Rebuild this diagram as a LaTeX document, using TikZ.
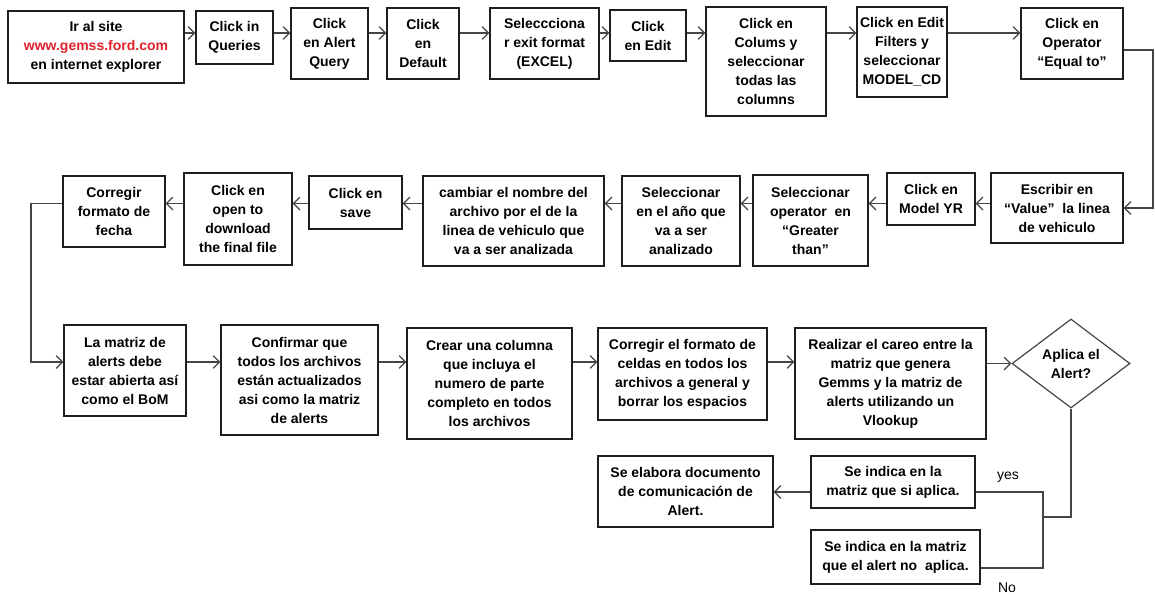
\documentclass[tikz,border=0pt]{standalone}
\usepackage{fontspec}
\setmainfont{Liberation Sans}
\usetikzlibrary{arrows.meta,shapes.geometric}
\definecolor{boxline}{HTML}{1E1E1E}
\definecolor{linegray}{HTML}{454545}
\definecolor{urlred}{HTML}{E0202A}
\newcommand\boxfont{\bfseries\fontsize{14}{19}\selectfont}
% box given by its left, top, right and bottom edges
\newcommand\flowbox[6]{%
  \node[stepbox, minimum width={(#4)-(#2)}, minimum height={(#5)-(#3)}]
    (#1) at ({((#2)+(#4))/2},{((#3)+(#5))/2}) {#6};}
\tikzset{
  stepbox/.style={draw=boxline, line width=1.2pt, align=center, inner sep=1pt,
    font=\boxfont, text=black},
  decision/.style={diamond, draw=linegray, line width=1.2pt, align=center,
    inner sep=0pt, font=\boxfont},
  flow/.style={draw=linegray, line width=1.3pt,
    -{Straight Barb[angle=90:9pt]}},
  link/.style={draw=linegray, line width=1.3pt},
  lbl/.style={font=\fontsize{14}{17}\selectfont, inner sep=0pt},
}
\begin{document}
\begin{tikzpicture}[x=1pt,y=-1pt]
\useasboundingbox (0,0) rectangle (1155,594);

% levels of the connectors
\coordinate (yA) at (0,33);
\coordinate (yA2) at (0,50);
\coordinate (yB) at (0,203.5);
\coordinate (yC) at (0,362);
\coordinate (yD) at (0,492);
\coordinate (yE) at (0,568);
\coordinate (rc) at (1153,208);
\coordinate (lc) at (31,362);
\coordinate (jn) at (1043,517);

% first row
\flowbox{b1}{8}{11}{184}{83}{Ir al site\\{\color{urlred}www.gemss.ford.com}\\en internet explorer}
\flowbox{b2}{196}{11}{273}{64}{Click in\\Queries}
\flowbox{b3}{291}{8}{368}{79}{Click\\en Alert\\Query}
\flowbox{b4}{387}{8}{459}{79}{Click\\en\\Default}
\flowbox{b5}{490}{8}{599}{79}{Seleccciona\\r exit format\\(EXCEL)}
\flowbox{b6}{610}{10}{686}{61}{Click\\en Edit}
\flowbox{b7}{706}{7}{826}{116}{Click en\\Colums y\\seleccionar\\todas las\\columns}
\flowbox{b8}{857}{7}{947}{97}{Click en Edit\\Filters y\\seleccionar\\MODEL\_CD}
\flowbox{b9}{1021}{8}{1123}{79}{Click en\\Operator\\“Equal to”}

% second row
\flowbox{b10}{991}{173}{1123}{243}{Escribir en\\“Value”\ \ la linea\\de vehiculo}
\flowbox{b11}{887}{173}{975}{225}{Click en\\Model YR}
\flowbox{b12}{753}{175}{868}{266}{Seleccionar\\operator\ \ en\\“Greater\\than”}
\flowbox{b13}{622}{176}{740}{266}{Seleccionar\\en el año que\\va a ser\\analizado}
\flowbox{b14}{423}{176}{604}{266}{cambiar el nombre del\\archivo por el de la\\linea de vehiculo que\\va a ser analizada}
\flowbox{b15}{309}{176}{402}{229}{Click en\\save}
\flowbox{b16}{184}{173}{292}{265}{Click en\\open to\\download\\the final file}
\flowbox{b17}{63}{176}{165}{247}{Corregir\\formato de\\fecha}

% third row
\flowbox{b18}{64}{325}{186}{416}{La matriz de\\alerts debe\\estar abierta así\\como el BoM}
\flowbox{b19}{221}{325}{378}{435}{Confirmar que\\todos los archivos\\están actualizados\\asi como la matriz\\de alerts}
\flowbox{b20}{407}{328}{572}{439}{Crear una columna\\que incluya el\\numero de parte\\completo en todos\\los archivos}
\flowbox{b21}{598}{328}{767}{420}{Corregir el formato de\\celdas en todos los\\archivos a general y\\borrar los espacios}
\flowbox{b22}{795}{328}{986}{439}{Realizar el careo entre la\\matriz que genera\\Gemms y la matriz de\\alerts utilizando un\\Vlookup}
\node[decision, minimum width=118, minimum height=89] (d23) at (1071,363.5) {Aplica el\\Alert?};

% outcome boxes
\flowbox{b24}{598}{456}{773}{527}{Se elabora documento\\de comunicación de\\Alert.}
\flowbox{b25}{811}{456}{975}{508}{Se indica en la\\matriz que si aplica.}
\flowbox{b26}{811}{530}{980}{584}{Se indica en la matriz\\que el alert no\ \ aplica.}

% connectors, first row (left to right)
\foreach \a/\b in {b1/b2,b2/b3,b3/b4,b4/b5,b5/b6,b6/b7,b7/b8,b8/b9}
  \draw[flow] (\a.east |- yA) -- (\b.west |- yA);
\draw[flow] (b9.east |- yA2) -| (rc) -- (b10.east);

% second row (right to left)
\foreach \a/\b in {b10/b11,b11/b12,b12/b13,b13/b14,b14/b15,b15/b16,b16/b17}
  \draw[flow] (\a.west |- yB) -- (\b.east |- yB);
\draw[flow] (b17.west |- yB) -| (lc) -- (b18.west |- yC);

% third row
\foreach \a/\b in {b18/b19,b19/b20,b20/b21,b21/b22}
  \draw[flow] (\a.east |- yC) -- (\b.west |- yC);
\draw[flow] (b22.east |- d23) -- (d23.west);

% decision branches
\draw[link] (d23.south) |- (jn);
\draw[link] (b25.east |- yD) -| (jn) |- (b26.east |- yE);
\draw[flow] (b25.west |- yD) -- (b24.east |- yD);
\node[lbl] (yes) at (1008,477) {yes};
\node[lbl] (no) at (1007,588) {No};
\end{tikzpicture}
\end{document}
